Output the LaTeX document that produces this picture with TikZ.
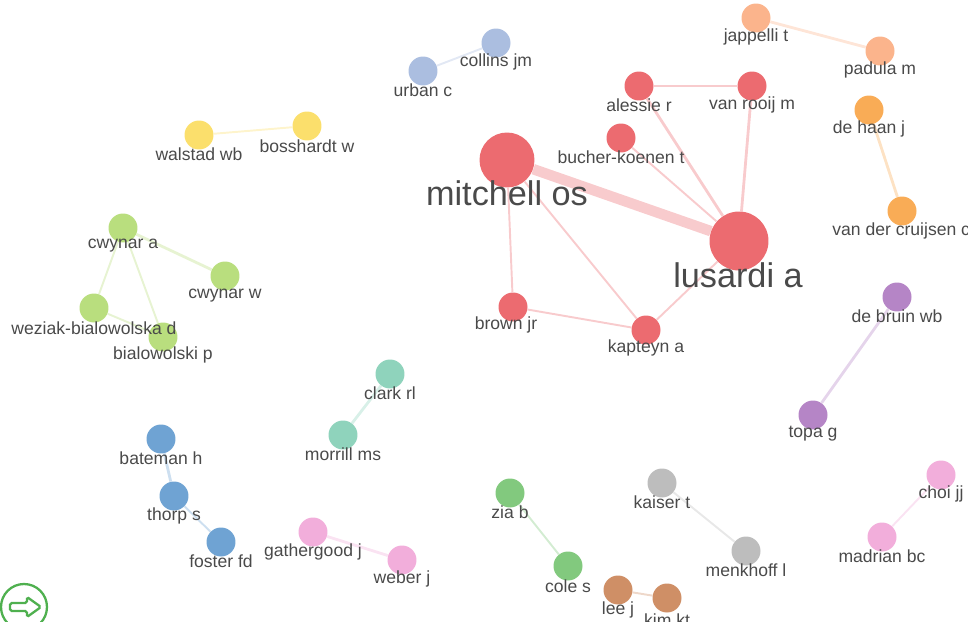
\documentclass[tikz,border=0pt]{standalone}
\usepackage{fontspec}
\setmainfont{Liberation Sans}

\definecolor{redC}{HTML}{EC6B70}
\definecolor{blueC}{HTML}{6FA3D3}
\definecolor{greenC}{HTML}{B9DE7E}
\definecolor{periC}{HTML}{ABBEE0}
\definecolor{yellowC}{HTML}{FBDF6C}
\definecolor{peachC}{HTML}{FBB48C}
\definecolor{orangeC}{HTML}{F9AC56}
\definecolor{purpleC}{HTML}{B585C6}
\definecolor{tealC}{HTML}{8FD3BC}
\definecolor{pinkC}{HTML}{F2AEDB}
\definecolor{leafC}{HTML}{82C97E}
\definecolor{greyC}{HTML}{BDBDBD}
\definecolor{brownC}{HTML}{CF8F66}
\definecolor{labelC}{HTML}{4A4A4A}
\definecolor{badgeC}{HTML}{4FB04F}

\begin{document}
\begin{tikzpicture}[
  x=0.02cm, y=-0.02cm,
  nd/.style={circle, minimum size=0.58cm, inner sep=0pt},
  lbl/.style={text=labelC, font=\fontsize{10pt}{12pt}\selectfont, inner sep=0pt},
  biglbl/.style={text=labelC, font=\fontsize{19.5pt}{22pt}\selectfont, inner sep=0pt},
  edge/.style={line width=1.1pt, draw=#1, draw opacity=0.35}
]

\useasboundingbox (0,0) rectangle (968,622);

%======================
% NODES
%======================

% red cluster
\node[nd, fill=redC, minimum size=1.1cm] (mitchell) at (507,160) {};
\node[nd, fill=redC, minimum size=1.18cm] (lusardi) at (739,241) {};
\node[nd, fill=redC] (alessie) at (639,86) {};
\node[nd, fill=redC] (rooij) at (752,86) {};
\node[nd, fill=redC] (bucher) at (621,138) {};
\node[nd, fill=redC] (brown) at (513,307) {};
\node[nd, fill=redC] (kapteyn) at (646,330) {};

% top pairs
\node[nd, fill=periC] (collins) at (496,43) {};
\node[nd, fill=periC] (urban) at (423,71) {};
\node[nd, fill=yellowC] (walstad) at (199,135) {};
\node[nd, fill=yellowC] (bosshardt) at (307,126) {};
\node[nd, fill=peachC] (jappelli) at (756,18) {};
\node[nd, fill=peachC] (padula) at (880,51) {};
\node[nd, fill=orangeC] (haan) at (869,110) {};
\node[nd, fill=orangeC] (cruijsen) at (902,211) {};
\node[nd, fill=purpleC] (bruin) at (897,297) {};
\node[nd, fill=purpleC] (topa) at (813,415) {};

% left clusters
\node[nd, fill=greenC] (cwynara) at (123,228) {};
\node[nd, fill=greenC] (cwynarw) at (225,276) {};
\node[nd, fill=greenC] (weziak) at (94,308) {};
\node[nd, fill=greenC] (bialowolski) at (163,337) {};
\node[nd, fill=tealC] (clark) at (390,374) {};
\node[nd, fill=tealC] (morrill) at (343,435) {};
\node[nd, fill=blueC] (bateman) at (161,439) {};
\node[nd, fill=blueC] (thorp) at (174,496) {};
\node[nd, fill=blueC] (foster) at (221,542) {};

% bottom pairs
\node[nd, fill=pinkC] (gathergood) at (313,532) {};
\node[nd, fill=pinkC] (weber) at (402,560) {};
\node[nd, fill=leafC] (zia) at (510,493) {};
\node[nd, fill=leafC] (cole) at (568,566) {};
\node[nd, fill=greyC] (kaiser) at (662,483) {};
\node[nd, fill=greyC] (menkhoff) at (746,551) {};
\node[nd, fill=brownC] (lee) at (618,590) {};
\node[nd, fill=brownC] (kim) at (667,598) {};
\node[nd, fill=pinkC] (choi) at (941,475) {};
\node[nd, fill=pinkC] (madrian) at (882,537) {};

%======================
% EDGES
%======================

\draw[edge=redC, line width=6pt] (mitchell) -- (lusardi);
\draw[edge=redC, line width=1.6pt] (alessie) -- (rooij);
\draw[edge=redC, line width=1.6pt] (alessie) -- (lusardi);
\draw[edge=redC, line width=1.6pt] (rooij) -- (lusardi);
\draw[edge=redC] (bucher) -- (lusardi);
\draw[edge=redC] (mitchell) -- (brown);
\draw[edge=redC] (mitchell) -- (kapteyn);
\draw[edge=redC] (lusardi) -- (kapteyn);
\draw[edge=redC] (brown) -- (kapteyn);

\draw[edge=periC] (collins) -- (urban);
\draw[edge=yellowC] (walstad) -- (bosshardt);
\draw[edge=peachC, line width=1.6pt] (jappelli) -- (padula);
\draw[edge=orangeC, line width=1.6pt] (haan) -- (cruijsen);
\draw[edge=purpleC, line width=1.6pt] (bruin) -- (topa);

\draw[edge=greenC, line width=1.6pt] (cwynara) -- (cwynarw);
\draw[edge=greenC] (cwynara) -- (weziak);
\draw[edge=greenC] (cwynara) -- (bialowolski);
\draw[edge=greenC] (weziak) -- (bialowolski);
\draw[edge=tealC, line width=1.6pt] (clark) -- (morrill);
\draw[edge=blueC, line width=1.6pt] (bateman) -- (thorp);
\draw[edge=blueC] (thorp) -- (foster);

\draw[edge=pinkC, line width=1.6pt] (gathergood) -- (weber);
\draw[edge=leafC] (zia) -- (cole);
\draw[edge=greyC] (kaiser) -- (menkhoff);
\draw[edge=brownC] (lee) -- (kim);
\draw[edge=pinkC] (choi) -- (madrian);

%======================
% LABELS
%======================

\node[biglbl] (mitchellL) at (507,193) {mitchell os};
\node[biglbl] (lusardiL) at (738,275) {lusardi a};
\node[lbl] (alessieL) at (639,105) {alessie r};
\node[lbl] (rooijL) at (752,105) {van rooij m};
\node[lbl] (bucherL) at (621,157) {bucher-koenen t};
\node[lbl] (brownL) at (506,325) {brown jr};
\node[lbl] (kapteynL) at (646,348) {kapteyn a};

\node[lbl] (collinsL) at (496,62) {collins jm};
\node[lbl] (urbanL) at (423,90) {urban c};
\node[lbl] (walstadL) at (199,154) {walstad wb};
\node[lbl] (bosshardtL) at (307,146) {bosshardt w};
\node[lbl] (jappelliL) at (756,37) {jappelli t};
\node[lbl] (padulaL) at (880,70) {padula m};
\node[lbl] (haanL) at (869,129) {de haan j};
\node[lbl, anchor=west] (cruijsenL) at (832,231) {van der cruijsen c};
\node[lbl] (bruinL) at (897,316) {de bruin wb};
\node[lbl] (topaL) at (813,434) {topa g};

\node[lbl] (cwynaraL) at (123,246) {cwynar a};
\node[lbl] (cwynarwL) at (225,296) {cwynar w};
\node[lbl] (weziakL) at (94,328) {weziak-bialowolska d};
\node[lbl] (bialowolskiL) at (163,355) {bialowolski p};
\node[lbl] (clarkL) at (390,393) {clark rl};
\node[lbl] (morrillL) at (343,454) {morrill ms};
\node[lbl] (batemanL) at (161,458) {bateman h};
\node[lbl] (thorpL) at (174,516) {thorp s};
\node[lbl] (fosterL) at (221,561) {foster fd};

\node[lbl] (gathergoodL) at (313,552) {gathergood j};
\node[lbl] (weberL) at (402,579) {weber j};
\node[lbl] (ziaL) at (510,512) {zia b};
\node[lbl] (coleL) at (568,586) {cole s};
\node[lbl] (kaiserL) at (662,502) {kaiser t};
\node[lbl] (menkhoffL) at (746,570) {menkhoff l};
\node[lbl] (leeL) at (618,610) {lee j};
\node[lbl] (kimL) at (667,620) {kim kt};
\node[lbl] (choiL) at (941,494) {choi jj};
\node[lbl] (madrianL) at (882,556) {madrian bc};

%======================
% ARROW BADGE
%======================

\node[circle, draw=badgeC, line width=1.3pt, minimum size=0.92cm, inner sep=0pt] (badge) at (24,607) {};
\draw[draw=badgeC, line width=1.3pt, rounded corners=1pt]
  (10,603) -- (27,603) -- (27,597) -- (41,607) -- (27,617) -- (27,611) -- (10,611) -- cycle;

\end{tikzpicture}
\end{document}
